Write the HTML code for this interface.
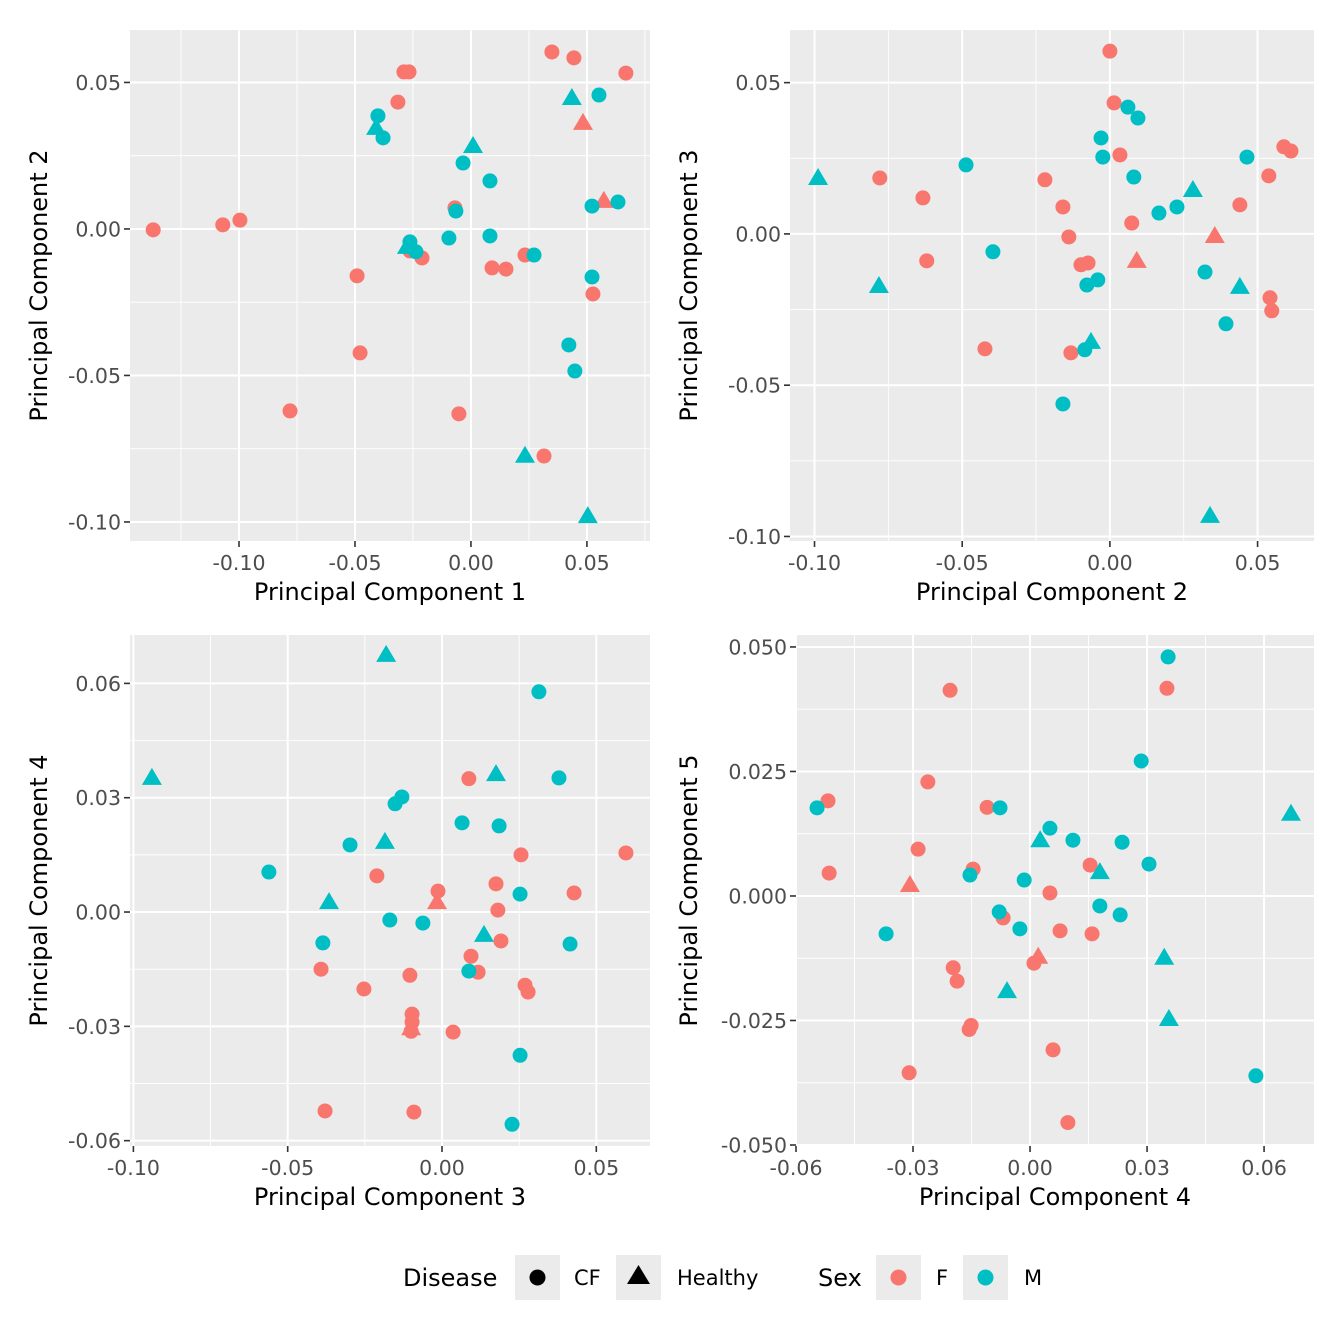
<!DOCTYPE html>
<html><head><meta charset="utf-8"><style>
html,body{margin:0;padding:0;background:#fff}
svg{display:block;font-family:"DejaVu Sans","Liberation Sans",sans-serif}
</style></head><body>
<svg id="chart" width="1344" height="1344" viewBox="0 0 1344 1344" xmlns="http://www.w3.org/2000/svg">
<rect width="1344" height="1344" fill="#fff"/>
<g>
<text x="403" y="1286" font-size="24">Disease</text>
<rect x="515" y="1255" width="45" height="45" fill="#EBEBEB"/>
<circle cx="537.5" cy="1277.5" r="8" fill="#000"/>
<text x="574" y="1285" font-size="21">CF</text>
<rect x="616" y="1255" width="45" height="45" fill="#EBEBEB"/>
<polygon points="638.5,1265 650,1284 627,1284" fill="#000"/>
<text x="677" y="1285" font-size="21">Healthy</text>
<text x="818" y="1286" font-size="24">Sex</text>
<rect x="876" y="1255" width="45" height="45" fill="#EBEBEB"/>
<circle cx="898.5" cy="1277.5" r="8" fill="#F8766D"/>
<text x="936" y="1285" font-size="21">F</text>
<rect x="963" y="1255" width="45" height="45" fill="#EBEBEB"/>
<circle cx="985.5" cy="1277.5" r="8" fill="#00BFC4"/>
<text x="1024" y="1285" font-size="21">M</text>
</g>
</svg>
<script>
const panel1Points = [
[-0.137,-0.0003,'F','CF'],[-0.107,0.0014,'F','CF'],[-0.0996,0.003,'F','CF'],[-0.078,-0.0621,'F','CF'],[-0.0491,-0.016,'F','CF'],[-0.0478,-0.0423,'F','CF'],[-0.0315,0.0433,'F','CF'],[-0.0289,0.0536,'F','CF'],[-0.0267,0.0536,'F','CF'],[-0.0263,-0.0075,'F','CF'],[-0.0211,-0.0099,'F','CF'],[-0.0069,0.0072,'F','CF'],[-0.0052,-0.0631,'F','CF'],[0.0091,-0.0133,'F','CF'],[0.0151,-0.0137,'F','CF'],[0.0233,-0.0089,'F','CF'],[0.0315,-0.0775,'F','CF'],[0.0349,0.0604,'F','CF'],[0.0444,0.0584,'F','CF'],[0.0526,-0.0222,'F','CF'],[0.0668,0.0532,'F','CF'],
[0.0483,0.0362,'F','Healthy'],[0.0573,0.0096,'F','Healthy'],
[-0.0401,0.0386,'M','CF'],[-0.0379,0.0311,'M','CF'],[-0.0263,-0.0044,'M','CF'],[-0.0237,-0.0078,'M','CF'],[-0.0095,-0.0031,'M','CF'],[-0.0034,0.0225,'M','CF'],[-0.0065,0.0061,'M','CF'],[0.0082,0.0164,'M','CF'],[0.0082,-0.0024,'M','CF'],[0.0272,-0.0089,'M','CF'],[0.0522,0.0078,'M','CF'],[0.0634,0.0092,'M','CF'],[0.0522,-0.0164,'M','CF'],[0.0422,-0.0396,'M','CF'],[0.0448,-0.0485,'M','CF'],[0.0552,0.0457,'M','CF'],
[-0.0409,0.0345,'M','Healthy'],[-0.0276,-0.0061,'M','Healthy'],[0.0009,0.0283,'M','Healthy'],[0.0435,0.0447,'M','Healthy'],[0.0233,-0.0774,'M','Healthy'],[0.0504,-0.098,'M','Healthy']
];
const panel2Points = [
[-0.0779,0.0185,'F','CF'],[-0.0633,0.0119,'F','CF'],[-0.062,-0.0089,'F','CF'],[-0.0423,-0.038,'F','CF'],[-0.022,0.0179,'F','CF'],[-0.0159,0.0089,'F','CF'],[-0.0139,-0.001,'F','CF'],[-0.0132,-0.0393,'F','CF'],[-0.0098,-0.0102,'F','CF'],[-0.0074,-0.0096,'F','CF'],[0,0.0604,'F','CF'],[0.0014,0.0433,'F','CF'],[0.0034,0.0261,'F','CF'],[0.0074,0.0036,'F','CF'],[0.044,0.0096,'F','CF'],[0.0538,0.0192,'F','CF'],[0.0542,-0.0211,'F','CF'],[0.0548,-0.0254,'F','CF'],[0.0589,0.0288,'F','CF'],[0.0613,0.0274,'F','CF'],
[0.0091,-0.0089,'F','Healthy'],[0.0355,-0.0007,'F','Healthy'],
[-0.0487,0.0228,'M','CF'],[-0.0396,-0.0059,'M','CF'],[-0.0078,-0.0169,'M','CF'],[-0.0041,-0.0152,'M','CF'],[-0.0085,-0.0383,'M','CF'],[-0.0159,-0.0562,'M','CF'],[-0.003,0.0317,'M','CF'],[-0.0024,0.0254,'M','CF'],[0.0081,0.0188,'M','CF'],[0.0095,0.0383,'M','CF'],[0.0061,0.0419,'M','CF'],[0.0166,0.0069,'M','CF'],[0.0227,0.0089,'M','CF'],[0.0322,-0.0126,'M','CF'],[0.0393,-0.0297,'M','CF'],[0.0464,0.0254,'M','CF'],
[-0.0988,0.0185,'M','Healthy'],[-0.0782,-0.0172,'M','Healthy'],[-0.0064,-0.0357,'M','Healthy'],[0.0281,0.0145,'M','Healthy'],[0.044,-0.0175,'M','Healthy'],[0.0339,-0.0932,'M','Healthy']
];
const panel3Points = [
[-0.0392,-0.015,'F','CF'],[-0.0379,-0.0522,'F','CF'],[-0.0253,-0.0202,'F','CF'],[-0.0211,0.0095,'F','CF'],[-0.0104,-0.0166,'F','CF'],[-0.0097,-0.0268,'F','CF'],[-0.0097,-0.0289,'F','CF'],[-0.01,-0.0313,'F','CF'],[-0.0091,-0.0525,'F','CF'],[-0.0013,0.0055,'F','CF'],[0.0036,-0.0315,'F','CF'],[0.0087,0.035,'F','CF'],[0.0094,-0.0116,'F','CF'],[0.0117,-0.0158,'F','CF'],[0.0175,0.0074,'F','CF'],[0.0181,0.0005,'F','CF'],[0.0191,-0.0076,'F','CF'],[0.0256,0.015,'F','CF'],[0.0269,-0.0192,'F','CF'],[0.0279,-0.021,'F','CF'],[0.0428,0.005,'F','CF'],[0.0596,0.0155,'F','CF'],
[-0.0016,0.0026,'F','Healthy'],[-0.01,-0.0305,'F','Healthy'],
[-0.0561,0.0105,'M','CF'],[-0.0386,-0.0081,'M','CF'],[-0.0298,0.0176,'M','CF'],[-0.0169,-0.0021,'M','CF'],[-0.0152,0.0284,'M','CF'],[-0.013,0.0302,'M','CF'],[-0.0062,-0.0029,'M','CF'],[0.0065,0.0234,'M','CF'],[0.0087,-0.0155,'M','CF'],[0.0185,0.0226,'M','CF'],[0.0253,0.0047,'M','CF'],[0.0253,-0.0376,'M','CF'],[0.0314,0.0578,'M','CF'],[0.0227,-0.0557,'M','CF'],[0.0379,0.0352,'M','CF'],[0.0415,-0.0084,'M','CF'],
[-0.094,0.0352,'M','Healthy'],[-0.0181,0.0675,'M','Healthy'],[-0.0366,0.0026,'M','Healthy'],[-0.0185,0.0184,'M','Healthy'],[0.0175,0.0362,'M','Healthy'],[0.0136,-0.006,'M','Healthy']
];
const panel4Points = [
[-0.0518,0.0191,'F','CF'],[-0.0515,0.0046,'F','CF'],[-0.031,-0.0355,'F','CF'],[-0.0287,0.0094,'F','CF'],[-0.0262,0.0229,'F','CF'],[-0.0205,0.0413,'F','CF'],[-0.0197,-0.0144,'F','CF'],[-0.0187,-0.0171,'F','CF'],[-0.0156,-0.0268,'F','CF'],[-0.0151,-0.026,'F','CF'],[-0.0146,0.0054,'F','CF'],[-0.0069,-0.0044,'F','CF'],[-0.011,0.0178,'F','CF'],[0.001,-0.0135,'F','CF'],[0.0051,0.0006,'F','CF'],[0.0059,-0.0309,'F','CF'],[0.0077,-0.007,'F','CF'],[0.0154,0.0062,'F','CF'],[0.0159,-0.0076,'F','CF'],[0.0351,0.0417,'F','CF'],[0.0097,-0.0455,'F','CF'],
[-0.0308,0.0022,'F','Healthy'],[0.0021,-0.0122,'F','Healthy'],
[-0.0546,0.0177,'M','CF'],[-0.0369,-0.0076,'M','CF'],[-0.0154,0.0042,'M','CF'],[-0.0079,-0.0032,'M','CF'],[-0.0077,0.0177,'M','CF'],[-0.0026,-0.0066,'M','CF'],[-0.0015,0.0032,'M','CF'],[0.0051,0.0136,'M','CF'],[0.011,0.0112,'M','CF'],[0.0179,-0.002,'M','CF'],[0.0231,-0.0038,'M','CF'],[0.0236,0.0108,'M','CF'],[0.0285,0.0271,'M','CF'],[0.0305,0.0064,'M','CF'],[0.0354,0.048,'M','CF'],[0.0579,-0.0361,'M','CF'],
[0.0026,0.0112,'M','Healthy'],[0.0179,0.0048,'M','Healthy'],[-0.0059,-0.0191,'M','Healthy'],[0.0344,-0.0124,'M','Healthy'],[0.0356,-0.0247,'M','Healthy'],[0.0669,0.0165,'M','Healthy']
];
const panel1XTicks = [-0.10,-0.05,0.00,0.05];
const panel1XLabels = ['-0.10','-0.05','0.00','0.05'];
const panel1YTicks = [0.05,0.00,-0.05,-0.10];
const panel1YLabels = ['0.05','0.00','-0.05','-0.10'];
const panel2XTicks = [-0.10,-0.05,0.00,0.05];
const panel2XLabels = ['-0.10','-0.05','0.00','0.05'];
const panel2YTicks = [0.05,0.00,-0.05,-0.10];
const panel2YLabels = ['0.05','0.00','-0.05','-0.10'];
const panel3XTicks = [-0.10,-0.05,0.00,0.05];
const panel3XLabels = ['-0.10','-0.05','0.00','0.05'];
const panel3YTicks = [0.06,0.03,0.00,-0.03,-0.06];
const panel3YLabels = ['0.06','0.03','0.00','-0.03','-0.06'];
const panel4XTicks = [-0.06,-0.03,0.00,0.03,0.06];
const panel4XLabels = ['-0.06','-0.03','0.00','0.03','0.06'];
const panel4YTicks = [0.05,0.025,0.00,-0.025,-0.05];
const panel4YLabels = ['0.050','0.025','0.000','-0.025','-0.050'];

const NS='http://www.w3.org/2000/svg';
const svg=document.getElementById('chart');
const COL={F:'#F8766D',M:'#00BFC4'};
function mk(tag,attrs,parent){const e=document.createElementNS(NS,tag);for(const k in attrs)e.setAttribute(k,attrs[k]);parent.appendChild(e);return e;}

const panels=[
 {id:1,pts:panel1Points,xt:panel1XTicks,xl:panel1XLabels,yt:panel1YTicks,yl:panel1YLabels,L:130,R:650,T:30,B:541,xd:[-0.147,0.0772],yd:[0.0679,-0.1065],xTitle:'Principal Component 1',yTitle:'Principal Component 2',ytx:47},
 {id:2,pts:panel2Points,xt:panel2XTicks,xl:panel2XLabels,yt:panel2YTicks,yl:panel2YLabels,L:790,R:1314,T:30,B:541,xd:[-0.1083,0.0691],yd:[0.0674,-0.1015],xTitle:'Principal Component 2',yTitle:'Principal Component 3',ytx:697},
 {id:3,pts:panel3Points,xt:panel3XTicks,xl:panel3XLabels,yt:panel3YTicks,yl:panel3YLabels,L:130,R:650,T:635,B:1146,xd:[-0.1011,0.0674],yd:[0.0727,-0.0614],xTitle:'Principal Component 3',yTitle:'Principal Component 4',ytx:47},
 {id:4,pts:panel4Points,xt:panel4XTicks,xl:panel4XLabels,yt:panel4YTicks,yl:panel4YLabels,L:796,R:1314,T:635,B:1146,xd:[-0.06,0.0728],yd:[0.0524,-0.0502],xTitle:'Principal Component 4',yTitle:'Principal Component 5',ytx:697}
];
panels.forEach(p=>{
 const sx=v=>p.L+(v-p.xd[0])/(p.xd[1]-p.xd[0])*(p.R-p.L);
 const sy=v=>p.T+(v-p.yd[0])/(p.yd[1]-p.yd[0])*(p.B-p.T);
 const g=mk('g',{},svg);
 
 
 const bg=mk('rect',{x:p.L,y:p.T,width:p.R-p.L,height:p.B-p.T,fill:'#EBEBEB'},g);
 
 
 const xs=p.xt.slice().sort((a,b)=>a-b), ys=p.yt.slice().sort((a,b)=>a-b);
 const xst=xs[1]-xs[0], yst=ys[1]-ys[0];
 for(let t=xs[0]-xst/2;t<=xs[xs.length-1]+xst;t+=xst){const px=sx(t);if(px>p.L&&px<p.R){const l=mk('line',{x1:px,x2:px,y1:p.T,y2:p.B,stroke:'#fff','stroke-width':0.9},g);}}
 for(let t=ys[0]-yst/2;t<=ys[ys.length-1]+yst;t+=yst){const py=sy(t);if(py>p.T&&py<p.B){const l=mk('line',{x1:p.L,x2:p.R,y1:py,y2:py,stroke:'#fff','stroke-width':0.9},g);}}
 p.xt.forEach((t,i)=>{const px=sx(t);
  const l=mk('line',{x1:px,x2:px,y1:p.T,y2:p.B,stroke:'#fff','stroke-width':2},g);
  mk('line',{x1:px,x2:px,y1:p.B,y2:p.B+6,stroke:'#333','stroke-width':1.6},g);
  const tx=mk('text',{x:px,y:p.B+29,'font-size':20.5,fill:'#4D4D4D','text-anchor':'middle'},g);tx.textContent=p.xl[i];
  });
 p.yt.forEach((t,i)=>{const py=sy(t);
  const l=mk('line',{x1:p.L,x2:p.R,y1:py,y2:py,stroke:'#fff','stroke-width':2},g);
  mk('line',{x1:p.L-6,x2:p.L,y1:py,y2:py,stroke:'#333','stroke-width':1.6},g);
  const tx=mk('text',{x:p.L-9,y:py+7.5,'font-size':20.5,fill:'#4D4D4D','text-anchor':'end'},g);tx.textContent=p.yl[i];
  });
 p.pts.forEach(d=>{const px=sx(d[0]),py=sy(d[1]);let m;
  if(d[3]==='CF'){m=mk('circle',{cx:px,cy:py,r:7.5,fill:COL[d[2]]},g);}
  else{m=mk('polygon',{points:`${px},${py-10} ${px+10},${py+7} ${px-10},${py+7}`,fill:COL[d[2]]},g);}
  
  });
 const xt=mk('text',{x:(p.L+p.R)/2,y:p.B+59,'font-size':24,fill:'#000','text-anchor':'middle'},g);xt.textContent=p.xTitle;
 
 const cy=(p.T+p.B)/2;
 const yt=mk('text',{x:p.ytx,y:cy,'font-size':24,fill:'#000','text-anchor':'middle',transform:`rotate(-90 ${p.ytx} ${cy})`},g);yt.textContent=p.yTitle;
 
});
</script>
</body></html>
